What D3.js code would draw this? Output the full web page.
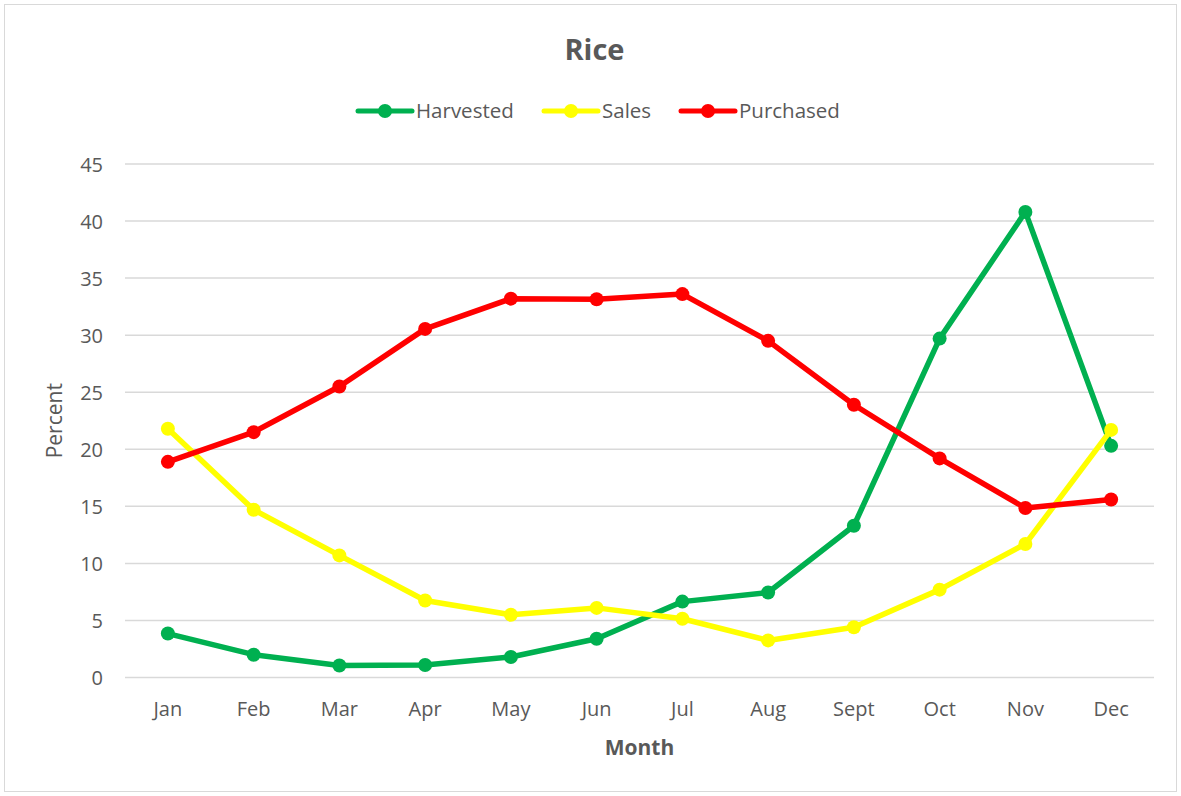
<!DOCTYPE html>
<html>
<head>
<meta charset="utf-8">
<script src="https://cdn.jsdelivr.net/npm/d3@7"></script>
<style>
  body { margin: 0; background: #fff; }
  text { font-family: "Open Sans", "Noto Sans", sans-serif; fill: #595959; }
</style>
</head>
<body>
<div class="wrapper"></div>
<script>
width = 1181;
height = 796;

months = ["Jan", "Feb", "Mar", "Apr", "May", "Jun", "Jul", "Aug", "Sept", "Oct", "Nov", "Dec"];
harvested = [3.85, 2.0, 1.05, 1.1, 1.8, 3.4, 6.65, 7.45, 13.3, 29.7, 40.8, 20.3];
sales = [21.8, 14.7, 10.7, 6.75, 5.5, 6.1, 5.15, 3.25, 4.4, 7.7, 11.7, 21.7];
purchased = [18.9, 21.5, 25.5, 30.55, 33.2, 33.15, 33.6, 29.5, 23.9, 19.2, 14.85, 15.6];
yTicks = [0, 5, 10, 15, 20, 25, 30, 35, 40, 45];

series = [
  { name: "Harvested", values: harvested, color: "#00b050" },
  { name: "Sales", values: sales, color: "#ffff00" },
  { name: "Purchased", values: purchased, color: "#ff0000" }
];

plot = { left: 125, right: 1154, top: 164, bottom: 677.5 };

scaleX = d3.scaleBand().domain(months).range([plot.left, plot.right]);
scaleY = d3.scaleLinear().domain([0, 45]).range([plot.bottom, plot.top]);

svg = d3.select(".wrapper")
  .append("svg")
  .attr("width", width)
  .attr("height", height);

// outer border
svg.append("rect")
  .attr("x", 4.5).attr("y", 4.5)
  .attr("width", width - 9).attr("height", height - 9)
  .attr("fill", "#fff")
  .attr("stroke", "#d9d9d9");

// gridlines
svg.append("g")
  .selectAll("line")
  .data(yTicks)
  .enter().append("line")
  .attr("x1", plot.left).attr("x2", plot.right)
  .attr("y1", function (d) { return scaleY(d); })
  .attr("y2", function (d) { return scaleY(d); })
  .attr("stroke", "#d9d9d9")
  .attr("stroke-width", 1.5);

// y axis labels
var yAxis = svg.append("g")
  .attr("transform", "translate(" + (plot.left - 22) + ",0)")
  .call(d3.axisLeft(scaleY).tickValues(yTicks).tickSize(0).tickPadding(0));
yAxis.select(".domain").remove();
yAxis.selectAll("text")
  .style("font-size", "20px")
  .attr("dy", "0.35em");

// x axis labels
var xAxis = svg.append("g")
  .attr("transform", "translate(0," + (plot.bottom + 24) + ")")
  .call(d3.axisBottom(scaleX).tickSize(0).tickPadding(0));
xAxis.select(".domain").remove();
xAxis.selectAll("text")
  .style("font-size", "20px")
  .attr("dy", "0.7em");

// axis titles
svg.append("text")
  .attr("x", (plot.left + plot.right) / 2)
  .attr("y", 755)
  .attr("text-anchor", "middle")
  .style("font-size", "21px")
  .style("font-weight", "bold")
  .text("Month");

svg.append("text")
  .attr("transform", "translate(62," + ((plot.top + plot.bottom) / 2) + ") rotate(-90)")
  .attr("text-anchor", "middle")
  .style("font-size", "21px")
  .text("Percent");

// title
svg.append("text")
  .attr("x", width / 2 + 4)
  .attr("y", 60)
  .attr("text-anchor", "middle")
  .style("font-size", "29px")
  .style("font-weight", "bold")
  .text("Rice");

// lines and markers
var line = d3.line()
  .x(function (d, i) { return scaleX(months[i]) + scaleX.bandwidth() / 2; })
  .y(function (d) { return scaleY(d); });

var groups = svg.selectAll(".series")
  .data(series)
  .enter().append("g")
  .classed("series", true);

groups.append("path")
  .attr("d", function (d) { return line(d.values); })
  .attr("fill", "none")
  .attr("stroke", function (d) { return d.color; })
  .attr("stroke-width", 5.5)
  .attr("stroke-linejoin", "round")
  .attr("stroke-linecap", "round");

groups.each(function (s) {
  d3.select(this).selectAll("circle")
    .data(s.values)
    .enter().append("circle")
    .attr("cx", function (d, i) { return scaleX(months[i]) + scaleX.bandwidth() / 2; })
    .attr("cy", function (d) { return scaleY(d); })
    .attr("r", 7)
    .attr("fill", s.color);
});

// legend
var legendX = [358, 544, 681];
var legend = svg.selectAll(".legend")
  .data(series)
  .enter().append("g")
  .classed("legend", true)
  .attr("transform", function (d, i) { return "translate(" + legendX[i] + ",111)"; });

legend.append("line")
  .attr("x1", 0).attr("x2", 54)
  .attr("stroke", function (d) { return d.color; })
  .attr("stroke-width", 5)
  .attr("stroke-linecap", "round");
legend.append("circle")
  .attr("cx", 27).attr("r", 7)
  .attr("fill", function (d) { return d.color; });
legend.append("text")
  .attr("x", 58)
  .attr("dy", "0.35em")
  .style("font-size", "20.5px")
  .text(function (d) { return d.name; });
</script>
</body>
</html>
